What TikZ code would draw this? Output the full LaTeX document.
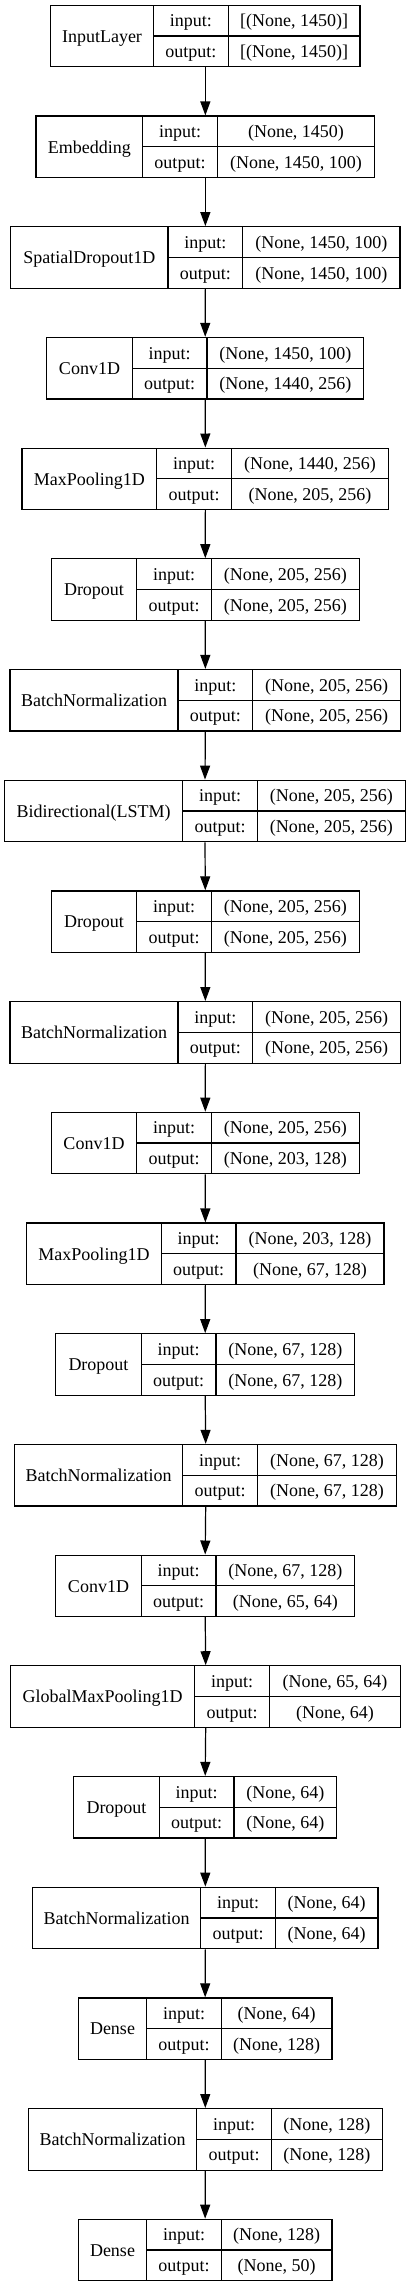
\documentclass[tikz,border=0pt]{standalone}
\usepackage{fontspec}
\setmainfont{Liberation Serif}
\usetikzlibrary{arrows.meta}
\tikzset{
	layerbox/.style={draw, minimum height=61.5pt, inner sep=0pt},
	cell/.style={inner sep=0pt, text height=12.5pt, text depth=0pt},
	flow/.style={-{Triangle[length=14pt, width=10pt]}}
}
\def\layer(#1)(#2)(#3:#4:#5:#6)#7#8#9{%
	\node[layerbox, minimum width={(#6-#3)*1pt}] (#1) at ({(#3+#6)/2}, {#2+30.75}) {};
	\draw ({#4}, {#2}) -- ({#4}, {#2+61.5});
	\draw ({#5}, {#2}) -- ({#5}, {#2+61.5});
	\draw ({#4}, {#2+30.75}) -- ({#6}, {#2+30.75});
	\node[cell] (#1-name) at ({(#3+#4)/2}, {#2+30.75}) {#7};
	\node[cell] (#1-inl) at ({(#4+#5)/2}, {#2+15.4}) {input:};
	\node[cell] (#1-outl) at ({(#4+#5)/2}, {#2+46.1}) {output:};
	\node[cell] (#1-in) at ({(#5+#6)/2}, {#2+15.4}) {#8};
	\node[cell] (#1-out) at ({(#5+#6)/2}, {#2+46.1}) {#9};
}

\begin{document}
\begin{tikzpicture}[x=1pt, y=-1pt, line width=1.2pt, font=\fontsize{18}{20}\selectfont]
		%%%%% START %%%%%
		
		\fill[white] (0, 0) rectangle (411, 2287);
		\useasboundingbox (0, 0) rectangle (411, 2287);
		
		\layer(l0)(5.3)(50.7:153.3:228.3:360){InputLayer}{[(None, 1450)]}{[(None, 1450)]}
		\layer(l1)(116.0)(36:142.7:217.3:374.7){Embedding}{(None, 1450)}{(None, 1450, 100)}
		\layer(l2)(226.7)(10.7:168:242.7:400){SpatialDropout1D}{(None, 1450, 100)}{(None, 1450, 100)}
		\layer(l3)(337.4)(46.7:132.3:207:363.7){Conv1D}{(None, 1450, 100)}{(None, 1440, 256)}
		\layer(l4)(448.1)(22:156.7:231.3:388.7){MaxPooling1D}{(None, 1440, 256)}{(None, 205, 256)}
		\layer(l5)(558.8)(51.3:136.7:211.3:359.3){Dropout}{(None, 205, 256)}{(None, 205, 256)}
		\layer(l6)(669.5)(10:178:252.7:400.7){BatchNormalization}{(None, 205, 256)}{(None, 205, 256)}
		\layer(l7)(780.2)(4.7:182.7:257.3:405.3){Bidirectional(LSTM)}{(None, 205, 256)}{(None, 205, 256)}
		\layer(l8)(890.9)(51.3:136.7:211.3:359.3){Dropout}{(None, 205, 256)}{(None, 205, 256)}
		\layer(l9)(1001.6)(10:178:252.7:400.7){BatchNormalization}{(None, 205, 256)}{(None, 205, 256)}
		\layer(l10)(1112.3)(51.3:136.7:211.3:359.3){Conv1D}{(None, 205, 256)}{(None, 203, 128)}
		\layer(l11)(1223.0)(26.7:161.3:236:384){MaxPooling1D}{(None, 203, 128)}{(None, 67, 128)}
		\layer(l12)(1333.7)(55.7:141.3:216:354.7){Dropout}{(None, 67, 128)}{(None, 67, 128)}
		\layer(l13)(1444.4)(14.7:182.7:257.3:396.7){BatchNormalization}{(None, 67, 128)}{(None, 67, 128)}
		\layer(l14)(1555.1)(55.7:141.3:216:354.7){Conv1D}{(None, 67, 128)}{(None, 65, 64)}
		\layer(l15)(1665.8)(10.7:194.7:269.3:400.7){GlobalMaxPooling1D}{(None, 65, 64)}{(None, 64)}
		\layer(l16)(1776.5)(73.7:159.3:234:336.7){Dropout}{(None, 64)}{(None, 64)}
		\layer(l17)(1887.2)(32.7:200.7:275.3:378){BatchNormalization}{(None, 64)}{(None, 64)}
		\layer(l18)(1997.9)(78.3:146.7:221.3:332){Dense}{(None, 64)}{(None, 128)}
		\layer(l19)(2108.6)(28.3:196.7:271.3:382.3){BatchNormalization}{(None, 128)}{(None, 128)}
		\layer(l20)(2219.3)(78.3:146.7:221.3:332){Dense}{(None, 128)}{(None, 50)}
		
		\draw[flow] (l0.south) -- (l1.north);
		\draw[flow] (l1.south) -- (l2.north);
		\draw[flow] (l2.south) -- (l3.north);
		\draw[flow] (l3.south) -- (l4.north);
		\draw[flow] (l4.south) -- (l5.north);
		\draw[flow] (l5.south) -- (l6.north);
		\draw[flow] (l6.south) -- (l7.north);
		\draw[flow] (l7.south) -- (l8.north);
		\draw[flow] (l8.south) -- (l9.north);
		\draw[flow] (l9.south) -- (l10.north);
		\draw[flow] (l10.south) -- (l11.north);
		\draw[flow] (l11.south) -- (l12.north);
		\draw[flow] (l12.south) -- (l13.north);
		\draw[flow] (l13.south) -- (l14.north);
		\draw[flow] (l14.south) -- (l15.north);
		\draw[flow] (l15.south) -- (l16.north);
		\draw[flow] (l16.south) -- (l17.north);
		\draw[flow] (l17.south) -- (l18.north);
		\draw[flow] (l18.south) -- (l19.north);
		\draw[flow] (l19.south) -- (l20.north);
		
		%%%%% END %%%%%
	\end{tikzpicture}
\end{document}
